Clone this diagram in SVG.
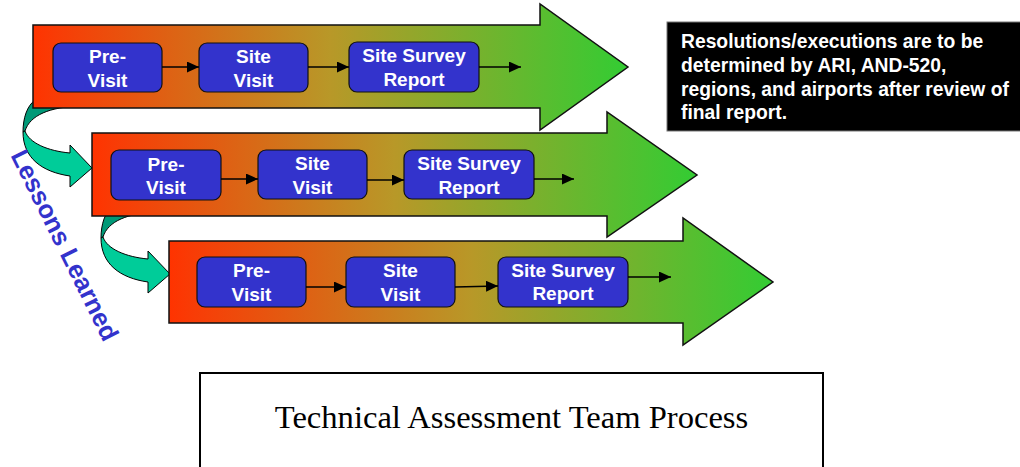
<svg xmlns="http://www.w3.org/2000/svg" width="1020" height="467" viewBox="0 0 1020 467">
  <defs>
    <linearGradient id="bandFill" x1="0" y1="0" x2="1" y2="0">
      <stop offset="0" stop-color="#ff3300"/>
      <stop offset="0.04" stop-color="#f83c06"/>
      <stop offset="0.5" stop-color="#b89828"/>
      <stop offset="1" stop-color="#33cc33"/>
    </linearGradient>
    <marker id="tip" markerUnits="userSpaceOnUse" markerWidth="13" markerHeight="12" refX="12" refY="5.5" orient="auto">
      <path d="M0,0 L12,5.5 L0,11 Z" fill="#000"/>
    </marker>
    <!-- curved teal feedback arrow, drawn at origin of first row -->
    <g id="loopArrow">
      <path class="loopBack" d="M23,132 C23,118 27,106 35,100 L80,100 L80,106 C50,107 30,115 25,131 Z"/>
      <path class="loopFront" d="M23,132 C23,158 42,172 70,176 L70,187 L92,168 L70,145 L70,153 C48,151 29,143 25,131 Z"/>
    </g>
  </defs>
  <style>
    .band { fill: url(#bandFill); stroke: #111; stroke-width: 1.5; stroke-linejoin: miter; }
    .step rect { fill: #3333cc; stroke: #111; stroke-width: 1.2; }
    .step text { fill: #ffffff; font-family: "Liberation Sans", Arial, sans-serif; font-weight: bold; font-size: 19px; text-anchor: middle; }
    .loopBack { fill: #009977; stroke: #000; stroke-width: 1; }
    .loopFront { fill: #00cc99; stroke: #000; stroke-width: 1; stroke-linejoin: miter; }
    .link { stroke: #000; stroke-width: 1.5; fill: none; marker-end: url(#tip); }
    .note { fill: #ffffff; font-family: "Liberation Sans", Arial, sans-serif; font-weight: bold; font-size: 19.3px; }
  </style>

  <rect width="1020" height="467" fill="#ffffff"/>

  <!-- feedback loops between rows -->
  <g id="loop-1"><use href="#loopArrow"/></g>
  <g id="loop-2"><use href="#loopArrow" transform="translate(78,106)"/></g>

  <!-- three process bands -->
  <g id="band-1"><path class="band" d="M33,25 L540,25 L540,4 L628,67 L540,130 L540,108 L33,108 Z"/></g>
  <g id="band-2"><path class="band" d="M92,133 L607,133 L607,112 L697,175 L607,237 L607,216 L92,216 Z"/></g>
  <g id="band-3"><path class="band" d="M169,241 L683,241 L683,218 L773,282 L683,345 L683,323 L169,323 Z"/></g>

  <!-- row 1 steps -->
  <g id="r1-previsit" class="step"><rect x="53" y="43" width="109" height="49" rx="8"/><text x="107.5" y="63">Pre-</text><text x="107.5" y="87">Visit</text></g>
  <g id="r1-sitevisit" class="step"><rect x="199" y="43" width="109" height="49" rx="8"/><text x="253.5" y="63">Site</text><text x="253.5" y="87">Visit</text></g>
  <g id="r1-report" class="step"><rect x="349" y="42" width="130" height="50" rx="8"/><text x="414" y="62">Site Survey</text><text x="414" y="86">Report</text></g>

  <!-- row 2 steps -->
  <g id="r2-previsit" class="step"><rect x="111" y="150" width="110" height="50" rx="8"/><text x="166" y="171">Pre-</text><text x="166" y="194">Visit</text></g>
  <g id="r2-sitevisit" class="step"><rect x="258" y="150" width="109" height="49" rx="8"/><text x="312.5" y="170">Site</text><text x="312.5" y="194">Visit</text></g>
  <g id="r2-report" class="step"><rect x="404" y="150" width="130" height="49" rx="8"/><text x="469" y="170">Site Survey</text><text x="469" y="194">Report</text></g>

  <!-- row 3 steps -->
  <g id="r3-previsit" class="step"><rect x="197" y="257" width="109" height="50" rx="8"/><text x="251.5" y="277">Pre-</text><text x="251.5" y="301">Visit</text></g>
  <g id="r3-sitevisit" class="step"><rect x="346" y="257" width="109" height="50" rx="8"/><text x="400.5" y="277">Site</text><text x="400.5" y="301">Visit</text></g>
  <g id="r3-report" class="step"><rect x="498" y="257" width="130" height="50" rx="8"/><text x="563" y="277">Site Survey</text><text x="563" y="300">Report</text></g>

  <!-- step connectors -->
  <g id="connectors">
    <line class="link" x1="162" y1="67" x2="199" y2="67"/>
    <line class="link" x1="308" y1="67" x2="349" y2="67"/>
    <line class="link" x1="479" y1="67" x2="521" y2="67"/>
    <line class="link" x1="221" y1="179" x2="258" y2="179"/>
    <line class="link" x1="367" y1="180" x2="404" y2="180"/>
    <line class="link" x1="534" y1="179" x2="574" y2="179"/>
    <line class="link" x1="306" y1="287" x2="346" y2="287"/>
    <line class="link" x1="455" y1="287" x2="498" y2="286"/>
    <line class="link" x1="628" y1="277" x2="671" y2="277"/>
  </g>

  <!-- rotated side label -->
  <g id="lessons-label">
    <text x="57" y="249" transform="rotate(63.5 57 249)" fill="#3333cc" font-family="'Liberation Sans', Arial, sans-serif" font-weight="bold" font-size="25.5" text-anchor="middle">Lessons Learned</text>
  </g>

  <!-- note box -->
  <g id="note">
    <rect x="667" y="22" width="354" height="109" fill="#000" stroke="#777" stroke-width="1"/>
    <text class="note" x="681" y="48">Resolutions/executions are to be</text>
    <text class="note" x="681" y="72">determined by ARI, AND-520,</text>
    <text class="note" x="681" y="95.5">regions, and airports after review of</text>
    <text class="note" x="681" y="119">final report.</text>
  </g>

  <!-- title box -->
  <g id="title">
    <rect x="200" y="373" width="623" height="110" fill="#fff" stroke="#000" stroke-width="2"/>
    <text x="511.5" y="428" font-family="'Liberation Serif', 'Times New Roman', serif" font-size="32.6" text-anchor="middle" fill="#000">Technical Assessment Team Process</text>
  </g>
</svg>
